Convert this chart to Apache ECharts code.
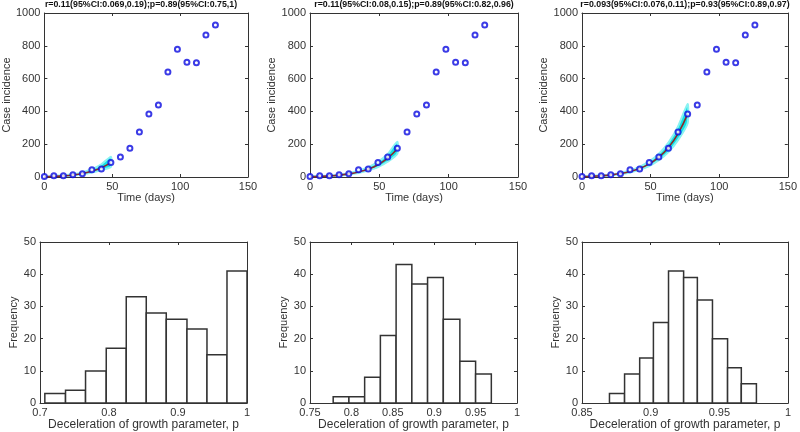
<!DOCTYPE html>
<html>
<head>
<meta charset="utf-8">
<script src="https://cdn.jsdelivr.net/npm/echarts@6/dist/echarts.min.js"></script>
<style>
html,body{margin:0;padding:0;background:#fff;}
#chart{width:800px;height:432px;}
</style>
</head>
<body>
<div id="chart"></div>
<script>
// ---------- data ----------
var titles = [
  'r=0.11(95%CI:0.069,0.19);p=0.89(95%CI:0.75,1)',
  'r=0.11(95%CI:0.08,0.15);p=0.89(95%CI:0.82,0.96)',
  'r=0.093(95%CI:0.076,0.11);p=0.93(95%CI:0.89,0.97)'
];
var times = [0,7,14,21,28,35,42,49,56,63,70,77,84,91,98,105,112,119,126];
var cases = [3,8,7,13,20,44,49,88,122,176,275,384,439,640,779,700,696,866,927];

var fitTimes1 = [0,7,14,21,28,35,42,49];
var fit1 = [1.7,3.6,7,12.5,21.5,35.5,57,88];
var lo1  = [0,1.5,4.5,9,16,27,42,62];
var hi1  = [3.5,6,10,16.5,28,47,77,124];

var fitTimes2 = [0,7,14,21,28,35,42,49,56,63];
var fit2 = [1.9,3.7,6.6,11.5,19,31,49,75,115,172];
var lo2  = [0,1.5,4.5,9,15,25,40,60,93,142];
var hi2  = [4,6,9,14.5,23,38,60,92,140,215];

var fitTimes3 = [0,7,14,21,28,35,42,49,56,63,70,77];
var fit3 = [2.4,4.5,7.8,13,21,34,52,80,121,180,265,385];
var lo3  = [0,2,5.5,10.5,17,28,44,67,102,152,225,328];
var hi3  = [4.5,7,10.5,16,25,40,62,95,142,210,308,445];

var binEdges1 = [0.707,0.737,0.766,0.796,0.825,0.854,0.883,0.913,0.942,0.971,1.0];
var counts1 = [3,4,10,17,33,28,26,23,15,41];
var binEdges2 = [0.778,0.797,0.816,0.835,0.854,0.873,0.892,0.911,0.931,0.950,0.969];
var counts2 = [2,2,8,21,43,37,39,26,13,9];
var binEdges3 = [0.870,0.881,0.892,0.902,0.913,0.924,0.934,0.945,0.956,0.966,0.977];
var counts3 = [3,9,14,25,41,39,32,20,11,6];

var histXMin = [0.7, 0.75, 0.85];
var histXInterval = [0.1, 0.05, 0.05];

// ---------- layout ----------
var FONT = '"Liberation Sans", Arial, sans-serif';
var TXT = '#333';
var panelLeft = [40, 310, 582];
var panelWidth = [208, 208, 206];
var topY = 13, topH = 164, botY = 242, botH = 164;

var fits = [
  {t: fitTimes1, f: fit1, lo: lo1, hi: hi1},
  {t: fitTimes2, f: fit2, lo: lo2, hi: hi2},
  {t: fitTimes3, f: fit3, lo: lo3, hi: hi3}
];
var hists = [
  {e: binEdges1, c: counts1},
  {e: binEdges2, c: counts2},
  {e: binEdges3, c: counts3}
];

var grid = [], xAxis = [], yAxis = [], series = [], graphic = [];

function plainNum(v) { return String(+v.toFixed(4)); }

function axisCommon(show) {
  return {
    axisLine: {show: true, onZero: false, lineStyle: {color: TXT, width: 1}},
    axisTick: {show: true, inside: true, length: 3, lineStyle: {color: TXT}},
    splitLine: {show: false},
    axisLabel: {show: show, color: TXT, fontSize: 11, fontFamily: FONT, margin: 4, formatter: plainNum}
  };
}

function addAxes(gi, xmin, xmax, xint, ymin, ymax, yint, xname, yname, yGap, xNameSize) {
  var xa = axisCommon(true);
  Object.assign(xa, {type: 'value', gridIndex: gi, position: 'bottom', min: xmin, max: xmax, interval: xint,
    name: xname, nameLocation: 'middle', nameGap: 13,
    nameTextStyle: {color: TXT, fontSize: xNameSize, fontFamily: FONT}});
  xa.axisLabel.showMaxLabel = true; xa.axisLabel.showMinLabel = true;
  var xt = axisCommon(false);
  Object.assign(xt, {type: 'value', gridIndex: gi, position: 'top', min: xmin, max: xmax, interval: xint});
  var ya = axisCommon(true);
  Object.assign(ya, {type: 'value', gridIndex: gi, position: 'left', min: ymin, max: ymax, interval: yint,
    name: yname, nameLocation: 'middle', nameGap: yGap,
    nameTextStyle: {color: TXT, fontSize: 11, fontFamily: FONT}});
  var yr = axisCommon(false);
  Object.assign(yr, {type: 'value', gridIndex: gi, position: 'right', min: ymin, max: ymax, interval: yint});
  var xi = xAxis.length; xAxis.push(xa, xt);
  var yi = yAxis.length; yAxis.push(ya, yr);
  return {xi: xi, yi: yi};
}

// top panels
for (var i = 0; i < 3; i++) {
  grid.push({left: panelLeft[i], top: topY, width: panelWidth[i], height: topH, containLabel: false});
  var gi = grid.length - 1;
  var ax = addAxes(gi, 0, 150, 50, 0, 1000, 200, 'Time (days)', 'Case incidence', 28, 11);
  var F = fits[i];
  (function (F) {
    series.push({
      type: 'custom', xAxisIndex: ax.xi, yAxisIndex: ax.yi, clip: true, silent: true, z: 1,
      data: [[0, 0]],
      renderItem: function (params, api) {
        var pts = [];
        for (var k = 0; k < F.t.length; k++) pts.push(api.coord([F.t[k], F.hi[k]]));
        for (var k = F.t.length - 1; k >= 0; k--) pts.push(api.coord([F.t[k], F.lo[k]]));
        return {type: 'polygon', shape: {points: pts, smooth: 0.2},
          style: {fill: '#12e2e6', stroke: '#8af2f2', lineWidth: 2}};
      }
    });
  })(F);
  var fd = [];
  for (var k = 0; k < F.t.length; k++) fd.push([F.t[k], F.f[k]]);
  series.push({type: 'line', xAxisIndex: ax.xi, yAxisIndex: ax.yi, data: fd, smooth: true,
    showSymbol: false, lineStyle: {color: '#8a2a2a', width: 1.6}, z: 2, silent: true});
  var sd = [];
  for (var k = 0; k < times.length; k++) sd.push([times[k], cases[k]]);
  series.push({type: 'scatter', xAxisIndex: ax.xi, yAxisIndex: ax.yi, data: sd, symbol: 'emptyCircle',
    symbolSize: 5, itemStyle: {color: '#0a0ae0', borderColor: '#0a0ae0', borderWidth: 1.7}, z: 3, silent: true});
}

// bottom panels
for (var i = 0; i < 3; i++) {
  grid.push({left: panelLeft[i], top: botY, width: panelWidth[i] - (i < 2 ? 1 : 0), height: botH, containLabel: false});
  var gi = grid.length - 1;
  var ax = addAxes(gi, histXMin[i], 1, histXInterval[i], 0, 50, 10, 'Deceleration of growth parameter, p', 'Frequency', 19, 12);
  var H = hists[i];
  var hd = [];
  for (var k = 0; k < H.c.length; k++) hd.push([H.e[k], H.e[k + 1], H.c[k]]);
  series.push({
    type: 'custom', xAxisIndex: ax.xi, yAxisIndex: ax.yi, clip: true, silent: true,
    data: hd, encode: {x: [0, 1], y: 2},
    renderItem: function (params, api) {
      var p0 = api.coord([api.value(0), 0]);
      var p1 = api.coord([api.value(1), api.value(2)]);
      return {type: 'rect', shape: {x: p0[0], y: p1[1], width: p1[0] - p0[0], height: p0[1] - p1[1]},
        style: {fill: '#fff', stroke: '#333', lineWidth: 1.5}};
    }
  });
}

// panel titles
var titleCenters = [141, 414, 685];
for (var i = 0; i < 3; i++) {
  graphic.push({type: 'text', x: titleCenters[i], y: 0, silent: true,
    style: {text: titles[i], fill: '#111', fontSize: 8.8, fontWeight: 'bold', fontFamily: 'Liberation Sans',
      textAlign: 'center', textVerticalAlign: 'top'}});
}

var chart = echarts.init(document.getElementById('chart'), null, {renderer: 'canvas'});
chart.setOption({
  animation: false,
  backgroundColor: '#fff',
  grid: grid, xAxis: xAxis, yAxis: yAxis, series: series, graphic: graphic
});
</script>
</body>
</html>
